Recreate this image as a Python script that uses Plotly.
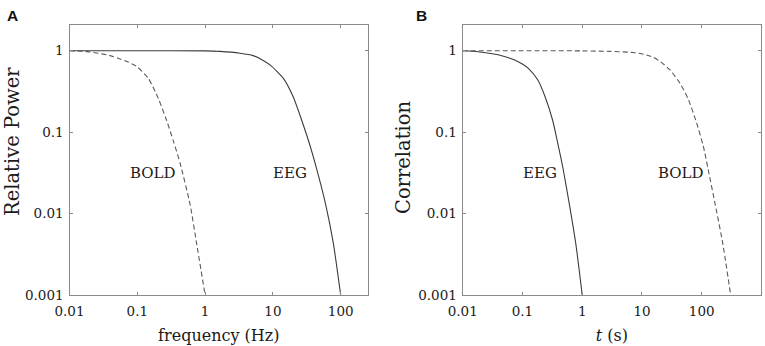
import plotly.graph_objects as go

# ---- Panel A: relative power vs frequency (Hz) ----
a_bold_f = [0.01, 0.018, 0.027, 0.04, 0.052, 0.072, 0.098, 0.145, 0.204, 0.27, 0.34, 0.43, 0.6, 0.75, 1.0]
a_bold_p = [1.0, 0.975, 0.93, 0.87, 0.81, 0.73, 0.64, 0.46, 0.26, 0.14, 0.078, 0.041, 0.013, 0.0043, 0.001]
a_eeg_f = [0.01, 0.1, 1.0, 1.66, 3.27, 5.1, 7.2, 9.06, 14.2, 20, 26.6, 35, 44, 60, 78, 100]
a_eeg_p = [1.0, 1.0, 0.995, 0.98, 0.93, 0.87, 0.76, 0.67, 0.46, 0.27, 0.14, 0.07, 0.036, 0.013, 0.0043, 0.001]

# ---- Panel B: correlation vs lag t (s) ----
b_eeg_t = [0.01, 0.018, 0.039, 0.055, 0.074, 0.098, 0.124, 0.18, 0.24, 0.32, 0.39, 0.477, 0.61, 0.78, 1.0]
b_eeg_c = [1.0, 0.97, 0.89, 0.83, 0.77, 0.69, 0.61, 0.44, 0.27, 0.14, 0.073, 0.036, 0.013, 0.0043, 0.001]
b_bold_t = [0.01, 0.1, 1.0, 3.0, 7.1, 11, 15.5, 21, 29.5, 43, 60, 82, 106, 127, 168, 225, 305]
b_bold_c = [1.0, 1.0, 0.995, 0.98, 0.95, 0.9, 0.83, 0.72, 0.58, 0.4, 0.25, 0.13, 0.068, 0.036, 0.013, 0.0043, 0.001]

x_ticks = [0.01, 0.1, 1, 10, 100]
x_tick_text = ["0.01", "0.1", "1", "10", "100"]
y_ticks = [0.001, 0.01, 0.1, 1]
y_tick_text = ["0.001", "0.01", "0.1", "1"]

FONT = "DejaVu Serif"
AXC = "#8a8a8a"
SOLID = "#3c3c3c"
DASH = "#5a5a5a"
TXT = "#1a1a1a"

fig = go.Figure()
fig.add_trace(go.Scatter(x=a_bold_f, y=a_bold_p, mode="lines", line=dict(color=DASH, width=1.1, dash="5px,3px", shape="spline", smoothing=0.6), xaxis="x", yaxis="y", showlegend=False))
fig.add_trace(go.Scatter(x=a_eeg_f, y=a_eeg_p, mode="lines", line=dict(color=SOLID, width=1.1, shape="spline", smoothing=0.6), xaxis="x", yaxis="y", showlegend=False))
fig.add_trace(go.Scatter(x=b_eeg_t, y=b_eeg_c, mode="lines", line=dict(color=SOLID, width=1.1, shape="spline", smoothing=0.6), xaxis="x2", yaxis="y2", showlegend=False))
fig.add_trace(go.Scatter(x=b_bold_t, y=b_bold_c, mode="lines", line=dict(color=DASH, width=1.1, dash="5px,3px", shape="spline", smoothing=0.6), xaxis="x2", yaxis="y2", showlegend=False))

common_ax = dict(type="log", showline=True, linecolor=AXC, linewidth=1.3, mirror="ticks",
                 ticks="inside", ticklen=3, tickcolor=AXC, showgrid=False, zeroline=False,
                 tickfont=dict(family=FONT, size=13.5, color=TXT), automargin=False)

xt_font = dict(family=FONT, size=16, color=TXT)
yt_font = dict(family=FONT, size=19.5, color=TXT)

ydom = [(346 - 295) / 346, (346 - 25.3) / 346]
fig.update_layout(
    width=765, height=346,
    margin=dict(l=0, r=0, t=0, b=0),
    paper_bgcolor="white", plot_bgcolor="white",
    xaxis=dict(common_ax, domain=[69.5 / 765, 368 / 765], range=[-2, 2.403],
               tickvals=x_ticks, ticktext=x_tick_text, ticklabelstandoff=4,
               title=dict(text="frequency (Hz)", font=xt_font, standoff=11)),
    yaxis=dict(common_ax, domain=ydom, range=[-3, 0.312],
               tickvals=y_ticks, ticktext=y_tick_text, ticklabelstandoff=2),
    xaxis2=dict(common_ax, domain=[462.7 / 765, 761 / 765], range=[-2, 2.992], anchor="y2",
                tickvals=x_ticks, ticktext=x_tick_text, ticklabelstandoff=4,
                title=dict(text="<i>t</i> (s)", font=xt_font, standoff=11)),
    yaxis2=dict(common_ax, domain=ydom, range=[-3, 0.312], anchor="x2",
                tickvals=y_ticks, ticktext=y_tick_text, ticklabelstandoff=2),
)

# y-axis titles (placed as rotated text to match the reference offsets)
fig.add_annotation(x=12 / 765, y=(346 - 142) / 346, xref="paper", yref="paper", text="Relative Power",
                   textangle=-90, showarrow=False, font=yt_font, xanchor="center", yanchor="middle")
fig.add_annotation(x=403 / 765, y=(346 - 157) / 346, xref="paper", yref="paper", text="Correlation",
                   textangle=-90, showarrow=False, font=yt_font, xanchor="center", yanchor="middle")

ann_font = dict(family=FONT, size=15, color=TXT)
fig.add_annotation(x=-0.77, y=-1.5, xref="x", yref="y", text="BOLD", showarrow=False, font=ann_font)
fig.add_annotation(x=1.25, y=-1.5, xref="x", yref="y", text="EEG", showarrow=False, font=ann_font)
fig.add_annotation(x=-0.706, y=-1.5, xref="x2", yref="y2", text="EEG", showarrow=False, font=ann_font)
fig.add_annotation(x=1.645, y=-1.5, xref="x2", yref="y2", text="BOLD", showarrow=False, font=ann_font)

letter_font = dict(family="Liberation Sans", size=15.5, color="#111")
fig.add_annotation(x=5 / 765, y=1 - 16 / 346, xref="paper", yref="paper", text="<b>A</b>", showarrow=False,
                   xanchor="left", yanchor="middle", font=letter_font)
fig.add_annotation(x=414 / 765, y=1 - 16 / 346, xref="paper", yref="paper", text="<b>B</b>", showarrow=False,
                   xanchor="left", yanchor="middle", font=letter_font)

fig.write_html("out.html", config={"displayModeBar": False},
               post_script="document.body.style.margin='0px';")
